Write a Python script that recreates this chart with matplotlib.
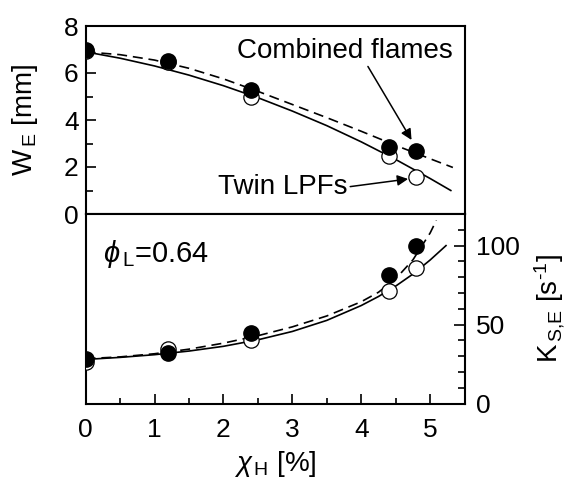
import numpy as np
import matplotlib
matplotlib.use("Agg")
import matplotlib.pyplot as plt
from matplotlib.ticker import MultipleLocator

plt.rcParams['font.family'] = ['Liberation Sans', 'DejaVu Sans']
plt.rcParams['mathtext.fontset'] = 'custom'
plt.rcParams['mathtext.rm'] = 'Liberation Sans'
plt.rcParams['mathtext.it'] = 'Liberation Sans:italic'
plt.rcParams['mathtext.bf'] = 'Liberation Sans:bold'

# ---------------- data ----------------
x_pts = [0.0, 1.2, 2.4, 4.4, 4.8]
# Top panel: W_E [mm]
we_combined = [7.0, 6.5, 5.28, 2.87, 2.68]
we_twin = [6.95, 6.45, 5.0, 2.47, 1.59]
# Fitted curves
we_fit_x_comb = [0.0, 0.5, 1.0, 1.5, 2.0, 2.5, 3.0, 3.5, 4.0, 4.5, 5.0, 5.33]
we_fit_comb = [6.9, 6.78, 6.55, 6.2, 5.75, 5.22, 4.66, 4.1, 3.52, 2.92, 2.35, 1.98]
we_fit_x_twin = [0.0, 0.5, 1.0, 1.5, 2.0, 2.5, 3.0, 3.5, 4.0, 4.5, 5.0, 5.3]
we_fit_twin = [6.9, 6.63, 6.30, 5.91, 5.46, 4.95, 4.38, 3.76, 3.07, 2.32, 1.51, 1.0]
# Bottom panel: K_S,E [1/s]
ks_combined = [28.4, 32.0, 44.7, 81.3, 100.0]
ks_twin = [26.3, 34.8, 40.5, 71.4, 86.0]
ks_fit_x_comb = [0.0, 0.5, 1.0, 1.5, 2.0, 2.5, 3.0, 3.5, 4.0, 4.25, 4.5, 4.75, 5.0, 5.09]
ks_fit_comb = [28.5, 29.6, 31.6, 34.5, 38.3, 43.0, 48.6, 55.5, 64.5, 70.5, 79.0, 91.0, 108.0, 116.0]
ks_fit_x_twin = [0.0, 0.5, 1.0, 1.5, 2.0, 2.5, 3.0, 3.5, 4.0, 4.25, 4.5, 4.75, 5.0, 5.23]
ks_fit_twin = [28.0, 29.3, 31.0, 33.3, 36.3, 40.4, 45.7, 52.7, 62.1, 67.8, 74.4, 82.0, 90.9, 100.0]

xticks = [0, 1, 2, 3, 4, 5]
we_ticks = [0, 2, 4, 6, 8]
ks_ticks = [0, 50, 100]

FS = 19
FS_LAB = 20
FS_ANN = 20

fig = plt.figure(figsize=(5.66, 4.8), dpi=100)
L, W = 85.6 / 566, 379 / 566
top_y0 = 1 - 214 / 480
top_h = (214 - 26) / 480
bot_y0 = 1 - 403.7 / 480
bot_h = (403.7 - 214) / 480
ax1 = fig.add_axes([L, top_y0, W, top_h])
ax2 = fig.add_axes([L, bot_y0, W, bot_h], sharex=ax1)

for ax in (ax1, ax2):
    for s in ax.spines.values():
        s.set_linewidth(1.5)

lw = 1.2
ms = 11
# ---- top panel ----
ax1.plot(we_fit_x_comb, we_fit_comb, 'k--', lw=lw, dashes=(6, 3.5))
ax1.plot(we_fit_x_twin, we_fit_twin, 'k-', lw=lw)
ax1.plot(x_pts, we_twin, 'o', mfc='white', mec='k', mew=0.9, ms=ms, ls='none', zorder=3)
ax1.plot(x_pts, we_combined, 'o', mfc='k', mec='k', ms=ms, ls='none', zorder=4)
ax1.set_xlim(0, 5.5)
ax1.set_ylim(0, 8)
ax1.set_yticks(we_ticks)
ax1.yaxis.set_minor_locator(MultipleLocator(1))
ax1.tick_params(axis='y', which='both', direction='in', left=True, right=False, labelsize=FS, pad=5, width=1.2)
ax1.tick_params(axis='y', which='major', length=7)
ax1.tick_params(axis='y', which='minor', length=5)
ax1.tick_params(axis='x', which='both', bottom=False, top=False, labelbottom=False)
ax1.set_ylabel(r'W$_{\,\rm E}$ [mm]', fontsize=FS_LAB, va='center')
ax1.yaxis.set_label_coords(-0.16, 0.5)

ax1.annotate('Combined flames', xy=(4.73, 3.15), xytext=(3.76, 6.95),
             fontsize=FS_ANN, ha='center', va='center',
             arrowprops=dict(arrowstyle='-|>', color='k', lw=1.1, mutation_scale=16,
                             shrinkA=0, shrinkB=0, relpos=(0.6, 0.0)))
ax1.annotate('Twin LPFs', xy=(4.68, 1.49), xytext=(2.86, 1.15),
             fontsize=FS_ANN, ha='center', va='center',
             arrowprops=dict(arrowstyle='-|>', color='k', lw=1.1, mutation_scale=16,
                             shrinkA=0, shrinkB=0, relpos=(1.0, 0.5)))

# ---- bottom panel ----
ax2.plot(ks_fit_x_comb, ks_fit_comb, 'k--', lw=lw, dashes=(6, 3.5))
ax2.plot(ks_fit_x_twin, ks_fit_twin, 'k-', lw=lw)
ax2.plot(x_pts, ks_twin, 'o', mfc='white', mec='k', mew=0.9, ms=ms, ls='none', zorder=3)
ax2.plot(x_pts, ks_combined, 'o', mfc='k', mec='k', ms=ms, ls='none', zorder=4)
ax2.set_ylim(0, 120)
ax2.yaxis.tick_right()
ax2.yaxis.set_label_position('right')
ax2.set_yticks(ks_ticks)
ax2.yaxis.set_minor_locator(MultipleLocator(10))
ax2.tick_params(axis='y', which='both', direction='in', left=False, right=True, labelsize=FS, pad=8, width=1.2)
ax2.tick_params(axis='y', which='major', length=8)
ax2.tick_params(axis='y', which='minor', length=5)
ax2.set_xticks(xticks)
ax2.xaxis.set_minor_locator(MultipleLocator(0.5))
ax2.tick_params(axis='x', which='both', direction='in', bottom=True, top=False, labelsize=FS, pad=10, width=1.2)
ax2.tick_params(axis='x', which='major', length=7)
ax2.tick_params(axis='x', which='minor', length=4)
ax2.set_ylabel(r'K$_{\,\text{S,E}}$ [s$^{\text{-1}}$]', fontsize=FS_LAB, va='center', rotation=90)
ax2.yaxis.set_label_coords(1.225, 0.5)
ax2.set_xlabel(r'$\chi_{\,\rm H}$ [%]', fontsize=FS_LAB, va='bottom')
ax2.xaxis.set_label_coords(0.5, -0.395)
ax2.text(0.045, 0.79, r'$\phi_{\,\rm L}$=0.64', transform=ax2.transAxes, fontsize=21, ha='left', va='center')

fig.savefig('out.png', dpi=100)
